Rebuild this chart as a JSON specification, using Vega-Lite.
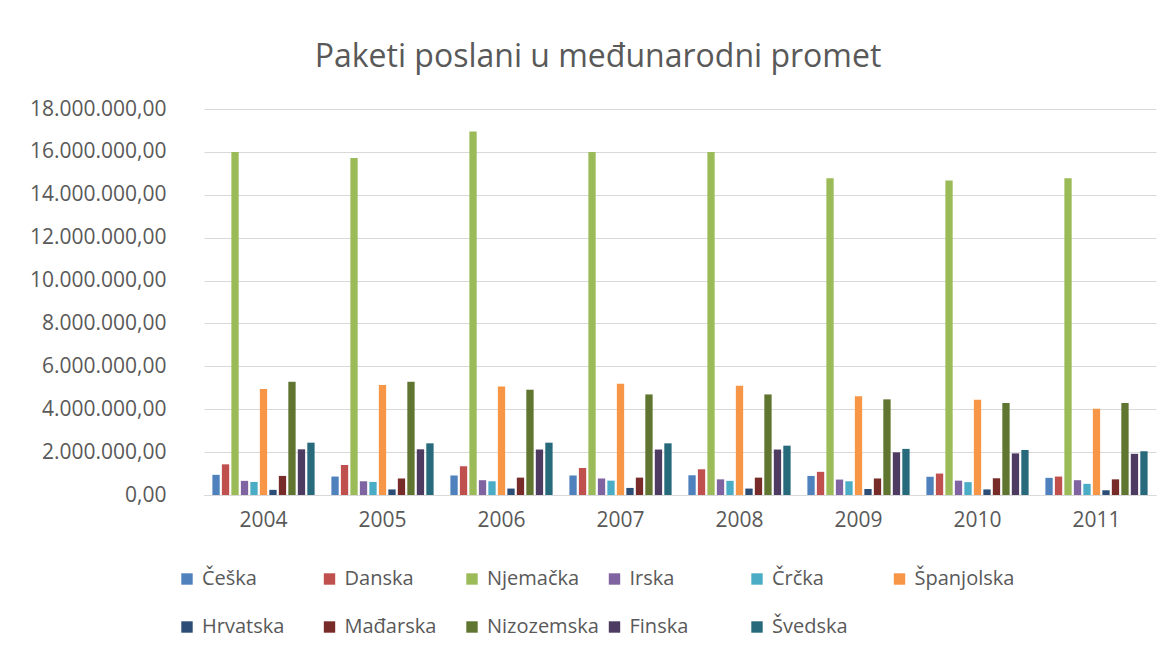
{
  "$schema": "https://vega.github.io/schema/vega-lite/v6.json",
  "width": 952,
  "height": 386,
  "autosize": {"type": "none"},
  "padding": {"left": 204, "top": 109, "right": 17, "bottom": 158},
  "background": "#ffffff",
  "title": {
    "text": "Paketi poslani u međunarodni promet",
    "font": "Open Sans",
    "fontSize": 32,
    "fontWeight": "normal",
    "color": "#595959",
    "anchor": "middle",
    "dx": -82,
    "baseline": "alphabetic",
    "offset": -1
  },
  "data": {
    "values": [
      {"year": "2004", "country": "Češka", "value": 940000},
      {"year": "2004", "country": "Danska", "value": 1430000},
      {"year": "2004", "country": "Njemačka", "value": 16000000},
      {"year": "2004", "country": "Irska", "value": 660000},
      {"year": "2004", "country": "Črčka", "value": 610000},
      {"year": "2004", "country": "Španjolska", "value": 4940000},
      {"year": "2004", "country": "Hrvatska", "value": 240000},
      {"year": "2004", "country": "Mađarska", "value": 890000},
      {"year": "2004", "country": "Nizozemska", "value": 5280000},
      {"year": "2004", "country": "Finska", "value": 2130000},
      {"year": "2004", "country": "Švedska", "value": 2440000},
      {"year": "2005", "country": "Češka", "value": 860000},
      {"year": "2005", "country": "Danska", "value": 1400000},
      {"year": "2005", "country": "Njemačka", "value": 15720000},
      {"year": "2005", "country": "Irska", "value": 640000},
      {"year": "2005", "country": "Črčka", "value": 610000},
      {"year": "2005", "country": "Španjolska", "value": 5130000},
      {"year": "2005", "country": "Hrvatska", "value": 260000},
      {"year": "2005", "country": "Mađarska", "value": 770000},
      {"year": "2005", "country": "Nizozemska", "value": 5280000},
      {"year": "2005", "country": "Finska", "value": 2130000},
      {"year": "2005", "country": "Švedska", "value": 2410000},
      {"year": "2006", "country": "Češka", "value": 910000},
      {"year": "2006", "country": "Danska", "value": 1340000},
      {"year": "2006", "country": "Njemačka", "value": 16950000},
      {"year": "2006", "country": "Irska", "value": 690000},
      {"year": "2006", "country": "Črčka", "value": 640000},
      {"year": "2006", "country": "Španjolska", "value": 5060000},
      {"year": "2006", "country": "Hrvatska", "value": 300000},
      {"year": "2006", "country": "Mađarska", "value": 810000},
      {"year": "2006", "country": "Nizozemska", "value": 4910000},
      {"year": "2006", "country": "Finska", "value": 2120000},
      {"year": "2006", "country": "Švedska", "value": 2440000},
      {"year": "2007", "country": "Češka", "value": 910000},
      {"year": "2007", "country": "Danska", "value": 1260000},
      {"year": "2007", "country": "Njemačka", "value": 16000000},
      {"year": "2007", "country": "Irska", "value": 770000},
      {"year": "2007", "country": "Črčka", "value": 670000},
      {"year": "2007", "country": "Španjolska", "value": 5190000},
      {"year": "2007", "country": "Hrvatska", "value": 330000},
      {"year": "2007", "country": "Mađarska", "value": 810000},
      {"year": "2007", "country": "Nizozemska", "value": 4690000},
      {"year": "2007", "country": "Finska", "value": 2120000},
      {"year": "2007", "country": "Švedska", "value": 2410000},
      {"year": "2008", "country": "Češka", "value": 920000},
      {"year": "2008", "country": "Danska", "value": 1200000},
      {"year": "2008", "country": "Njemačka", "value": 16000000},
      {"year": "2008", "country": "Irska", "value": 730000},
      {"year": "2008", "country": "Črčka", "value": 660000},
      {"year": "2008", "country": "Španjolska", "value": 5090000},
      {"year": "2008", "country": "Hrvatska", "value": 300000},
      {"year": "2008", "country": "Mađarska", "value": 810000},
      {"year": "2008", "country": "Nizozemska", "value": 4690000},
      {"year": "2008", "country": "Finska", "value": 2120000},
      {"year": "2008", "country": "Švedska", "value": 2300000},
      {"year": "2009", "country": "Češka", "value": 890000},
      {"year": "2009", "country": "Danska", "value": 1080000},
      {"year": "2009", "country": "Njemačka", "value": 14770000},
      {"year": "2009", "country": "Irska", "value": 720000},
      {"year": "2009", "country": "Črčka", "value": 640000},
      {"year": "2009", "country": "Španjolska", "value": 4600000},
      {"year": "2009", "country": "Hrvatska", "value": 280000},
      {"year": "2009", "country": "Mađarska", "value": 770000},
      {"year": "2009", "country": "Nizozemska", "value": 4460000},
      {"year": "2009", "country": "Finska", "value": 1990000},
      {"year": "2009", "country": "Švedska", "value": 2150000},
      {"year": "2010", "country": "Češka", "value": 850000},
      {"year": "2010", "country": "Danska", "value": 1000000},
      {"year": "2010", "country": "Njemačka", "value": 14670000},
      {"year": "2010", "country": "Irska", "value": 670000},
      {"year": "2010", "country": "Črčka", "value": 600000},
      {"year": "2010", "country": "Španjolska", "value": 4440000},
      {"year": "2010", "country": "Hrvatska", "value": 260000},
      {"year": "2010", "country": "Mađarska", "value": 780000},
      {"year": "2010", "country": "Nizozemska", "value": 4290000},
      {"year": "2010", "country": "Finska", "value": 1940000},
      {"year": "2010", "country": "Švedska", "value": 2100000},
      {"year": "2011", "country": "Češka", "value": 800000},
      {"year": "2011", "country": "Danska", "value": 860000},
      {"year": "2011", "country": "Njemačka", "value": 14770000},
      {"year": "2011", "country": "Irska", "value": 690000},
      {"year": "2011", "country": "Črčka", "value": 520000},
      {"year": "2011", "country": "Španjolska", "value": 4020000},
      {"year": "2011", "country": "Hrvatska", "value": 220000},
      {"year": "2011", "country": "Mađarska", "value": 730000},
      {"year": "2011", "country": "Nizozemska", "value": 4290000},
      {"year": "2011", "country": "Finska", "value": 1920000},
      {"year": "2011", "country": "Švedska", "value": 2040000}
    ]
  },
  "mark": {"type": "bar"},
  "encoding": {
    "x": {
      "field": "year",
      "type": "ordinal",
      "scale": {"paddingInner": 0.141, "paddingOuter": 0.0705},
      "axis": {
        "title": null,
        "labelAngle": 0,
        "ticks": false,
        "domainColor": "#d9d9d9",
        "domainWidth": 1,
        "labelFont": "Open Sans",
        "labelFontSize": 21,
        "labelColor": "#595959",
        "labelPadding": 14
      }
    },
    "xOffset": {
      "field": "country",
      "type": "nominal",
      "sort": ["Češka", "Danska", "Njemačka", "Irska", "Črčka", "Španjolska", "Hrvatska", "Mađarska", "Nizozemska", "Finska", "Švedska"],
      "scale": {"paddingInner": 0.23, "paddingOuter": 0}
    },
    "y": {
      "field": "value",
      "type": "quantitative",
      "scale": {"domain": [0, 18000000], "nice": false},
      "axis": {
        "title": null,
        "values": [0, 2000000, 4000000, 6000000, 8000000, 10000000, 12000000, 14000000, 16000000, 18000000],
        "format": ",.2f",
        "ticks": false,
        "domain": false,
        "grid": true,
        "gridColor": "#d9d9d9",
        "gridWidth": 1.2,
        "labelFont": "Open Sans",
        "labelFontSize": 21,
        "labelColor": "#595959",
        "labelPadding": 38
      }
    },
    "color": {
      "field": "country",
      "type": "nominal",
      "scale": {
        "domain": ["Češka", "Danska", "Njemačka", "Irska", "Črčka", "Španjolska", "Hrvatska", "Mađarska", "Nizozemska", "Finska", "Švedska"],
        "range": ["#4F81BD", "#C0504D", "#9BBB59", "#8064A2", "#4BACC6", "#F79646", "#2C4D75", "#772C2A", "#5F7530", "#4D3B62", "#276A7C"]
      },
      "legend": {
        "title": null,
        "orient": "none",
        "legendX": -27,
        "legendY": 460,
        "direction": "horizontal",
        "columns": 6,
        "gridAlign": "all",
        "columnPadding": 5.5,
        "rowPadding": 28,
        "symbolType": "square",
        "symbolSize": 130,
        "symbolStrokeWidth": 0,
        "labelOffset": 5,
        "labelFont": "Open Sans",
        "labelFontSize": 20,
        "labelColor": "#595959",
        "labelLimit": 300
      }
    }
  },
  "config": {
    "locale": {"number": {"decimal": ",", "thousands": ".", "grouping": [3], "currency": ["", " €"]}},
    "view": {"stroke": null}
  }
}
